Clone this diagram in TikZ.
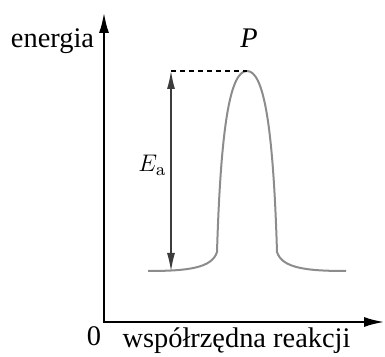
\documentclass[tikz,border=0pt]{standalone}
\usepackage[no-math]{fontspec}
\setmainfont{Liberation Serif}
\usetikzlibrary{arrows.meta}
\tikzset{
  axis/.style={line width=1.35pt, line join=miter, {Latex[length=10.5pt,width=5pt]}-{Latex[length=10.5pt,width=5pt]}},
  curve/.style={line width=1pt, draw={rgb,255:red,140;green,140;blue,140}},
  dim/.style={line width=0.6pt, draw={rgb,255:red,60;green,60;blue,60}, {Latex[length=9pt,width=4pt]}-{Latex[length=9pt,width=4pt]}},
  dashline/.style={line width=0.6pt, dash pattern=on 2.5pt off 2pt},
  lbl/.style={inner sep=0pt, font=\fontsize{14.2}{17}\selectfont},
}
\begin{document}
\begin{tikzpicture}[x=0.5pt,y=-0.5pt]
\useasboundingbox (0,0) rectangle (385,357);
\coordinate (O) at (104,322);
\coordinate (ytip) at (104,12);
\coordinate (xtip) at (385,322);
\coordinate (peak) at (247,71);
\coordinate (dtop) at (171,71);
\coordinate (dbot) at (171,271);
\coordinate (lstart) at (148,271);
\coordinate (rend) at (346,271);
\draw[axis] (ytip) -- (O) -- (xtip);
\draw[curve] (lstart) .. controls (188,271) and (212,268) .. (217,252)
  .. controls (221,120) and (231,71) .. (peak)
  .. controls (263,71) and (273,120) .. (277,252)
  .. controls (282,268) and (306,271) .. (rend);
\draw[dashline] (dtop) -- (peak);
\draw[dim] (dtop) -- (dbot);
\node[lbl, anchor=base] (energia) at (52.5,48) {energia};
\node[lbl, anchor=base] (P) at (249,48) {\itshape P};
\node[inner sep=0pt, anchor=base west, font=\fontsize{13}{15}\selectfont] (Ea) at (138,172) {$E_{\mathrm{a}}$};
\node[lbl, anchor=base] (zero) at (94,345) {0};
\node[lbl, anchor=base] (xlabel) at (236.5,348) {współrzędna reakcji};
\end{tikzpicture}
\end{document}
